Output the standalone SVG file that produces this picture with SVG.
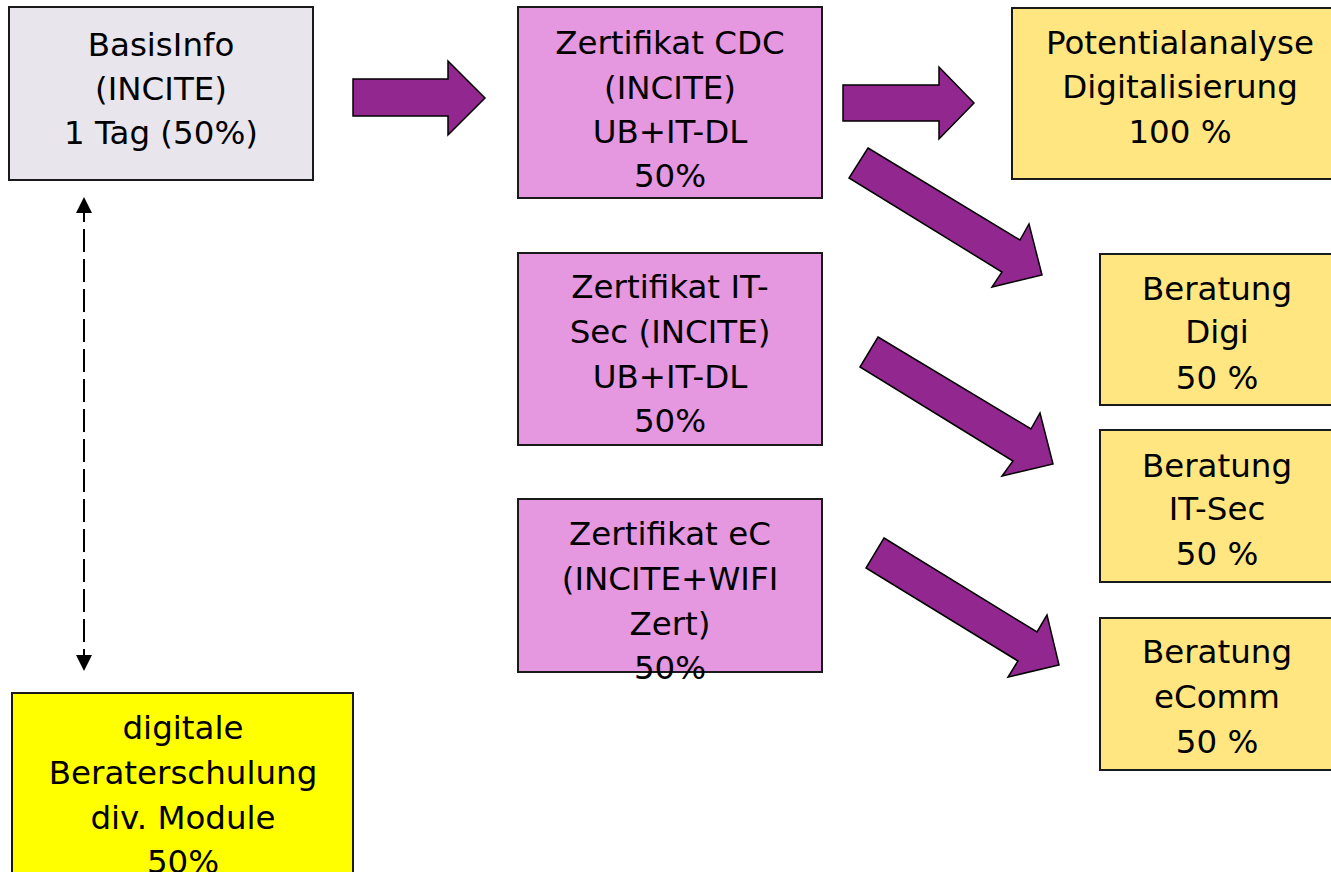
<svg xmlns="http://www.w3.org/2000/svg" width="1331" height="872" viewBox="0 0 1331 872">
<style>
.box{stroke:#1a1a1a;stroke-width:2}
.grey{fill:#E9E5EC}
.pink{fill:#E597E0}
.gold{fill:#FFE680}
.yel{fill:#FFFF00}
.big{fill:#92278F;stroke:#000;stroke-width:1.5;stroke-linejoin:miter}
text{font-family:"DejaVu Sans","Liberation Sans",sans-serif;font-size:32.5px;fill:#000;text-anchor:middle}
.dash{stroke:#000;stroke-width:2;stroke-dasharray:23 7;fill:none}
</style>
<defs>
<marker id="ah" markerUnits="userSpaceOnUse" markerWidth="16" markerHeight="16" refX="14" refY="8" orient="auto-start-reverse" viewBox="0 0 16 16">
<path d="M0,0 L16,8 L0,16 z" fill="#000"/>
</marker>
</defs>
<rect width="1331" height="872" fill="#fff"/>
<g id="connectors">
<polygon class="big" points="353,79 448,79 448,61 485,98 448,135 448,116 353,116"/>
<polygon class="big" points="843,85 939,85 939,67 974,103 939,139 939,121 843,121"/>
<polygon class="big" points="868,148 1020,240 1029,224 1042,275 992,287 1002,272 849,178"/>
<polygon class="big" points="878,337 1031,429 1040,413 1053,464 1002,476 1013,461 860,367"/>
<polygon class="big" points="884,538 1037,632 1047,615 1059,665 1008,677 1018,661 866,568"/>
<line class="dash" x1="84" y1="199" x2="84" y2="669" marker-start="url(#ah)" marker-end="url(#ah)"/>
</g>
<g id="basisinfo">
<rect class="box grey" x="9" y="7" width="304" height="173"/>
<text x="161" y="56">BasisInfo</text>
<text x="161" y="100">(INCITE)</text>
<text x="161" y="144">1 Tag (50%)</text>
</g>
<g id="zert-cdc">
<rect class="box pink" x="518" y="7" width="304" height="191"/>
<text x="670" y="54">Zertifikat CDC</text>
<text x="670" y="99">(INCITE)</text>
<text x="670" y="143">UB+IT-DL</text>
<text x="670" y="187">50%</text>
</g>
<g id="zert-itsec">
<rect class="box pink" x="518" y="253" width="304" height="192"/>
<text x="670" y="298">Zertifikat IT-</text>
<text x="670" y="343">Sec (INCITE)</text>
<text x="670" y="388">UB+IT-DL</text>
<text x="670" y="432">50%</text>
</g>
<g id="zert-ec">
<rect class="box pink" x="518" y="499" width="304" height="173"/>
<text x="670" y="545">Zertifikat eC</text>
<text x="670" y="590">(INCITE+WIFI</text>
<text x="670" y="635">Zert)</text>
<text x="670" y="679">50%</text>
</g>
<g id="potentialanalyse">
<rect class="box gold" x="1012" y="8" width="340" height="171"/>
<text x="1180" y="54">Potentialanalyse</text>
<text x="1180" y="98">Digitalisierung</text>
<text x="1180" y="143">100 %</text>
</g>
<g id="beratung-digi">
<rect class="box gold" x="1100" y="254" width="240" height="151"/>
<text x="1217" y="300">Beratung</text>
<text x="1217" y="343">Digi</text>
<text x="1217" y="389">50 %</text>
</g>
<g id="beratung-itsec">
<rect class="box gold" x="1100" y="430" width="240" height="152"/>
<text x="1217" y="477">Beratung</text>
<text x="1217" y="520">IT-Sec</text>
<text x="1217" y="565">50 %</text>
</g>
<g id="beratung-ecomm">
<rect class="box gold" x="1100" y="618" width="240" height="152"/>
<text x="1217" y="663">Beratung</text>
<text x="1217" y="708">eComm</text>
<text x="1217" y="753">50 %</text>
</g>
<g id="beraterschulung">
<rect class="box yel" x="12" y="693" width="341" height="200"/>
<text x="183" y="739">digitale</text>
<text x="183" y="784">Beraterschulung</text>
<text x="183" y="829">div. Module</text>
<text x="183" y="873">50%</text>
</g>
</svg>
